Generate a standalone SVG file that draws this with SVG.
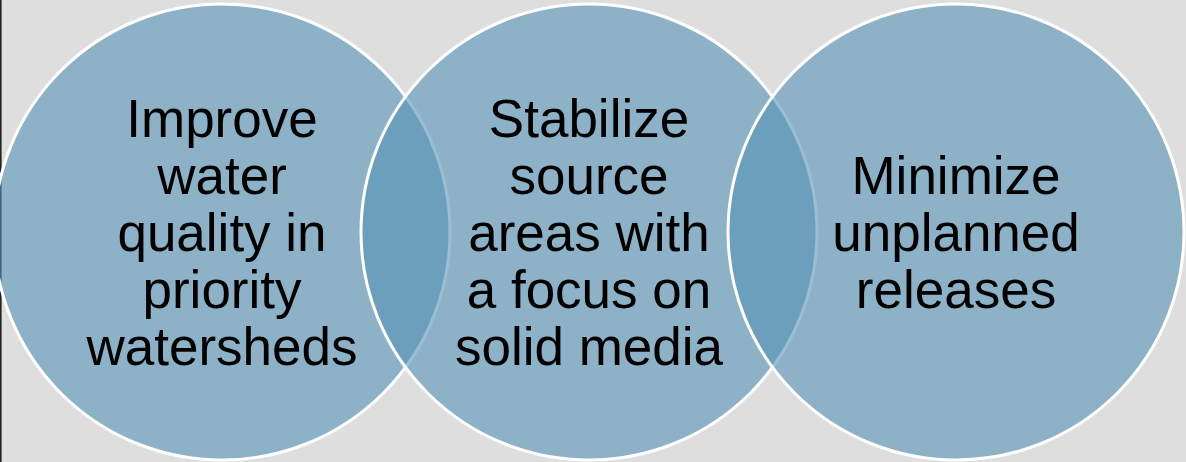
<svg xmlns="http://www.w3.org/2000/svg" width="1186" height="462" viewBox="0 0 1186 462">
<style>
.c{fill:rgb(86,146,181);fill-opacity:0.6;stroke:#ffffff;stroke-width:3}
.t{font-family:"Liberation Sans",Arial,sans-serif;font-size:53px;fill:#000;text-anchor:middle}
</style>
<rect x="0" y="0" width="1186" height="462" fill="#dedede"/>
<line x1="0.8" y1="0" x2="0.8" y2="462" stroke="#222" stroke-width="1.6"/>
<g id="node1">
<circle class="c" cx="222" cy="232" r="228"/>
</g>
<g id="node2">
<circle class="c" cx="589" cy="232" r="228"/>
</g>
<g id="node3">
<circle class="c" cx="956" cy="232" r="228"/>
</g>
<g id="labels">
<text class="t" x="222"><tspan x="222" y="137">Improve</tspan><tspan x="222" y="194">water</tspan><tspan x="222" y="251">quality in</tspan><tspan x="222" y="308">priority</tspan><tspan x="222" y="365">watersheds</tspan></text>
<text class="t" x="589"><tspan x="589" y="137">Stabilize</tspan><tspan x="589" y="194">source</tspan><tspan x="589" y="251">areas with</tspan><tspan x="589" y="308">a focus on</tspan><tspan x="589" y="365">solid media</tspan></text>
<text class="t" x="956"><tspan x="956" y="194">Minimize</tspan><tspan x="956" y="251">unplanned</tspan><tspan x="956" y="308">releases</tspan></text>
</g>
<g id="connectors"/>
</svg>
